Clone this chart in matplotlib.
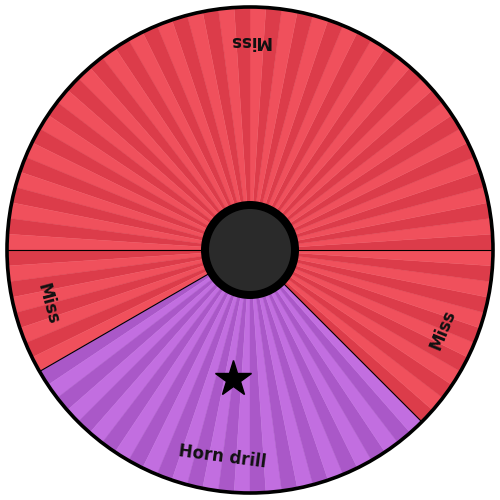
import numpy as np
import matplotlib
matplotlib.use("Agg")
import matplotlib.pyplot as plt
from matplotlib.patches import Wedge, Circle

# Data
labels = ["Miss", "Miss", "Horn drill", "Miss"]
spans_deg = [180, 30, 105, 45]          # angular size of each segment
light_colors = ["#f0505c", "#f0505c", "#c26ee0", "#f0505c"]
dark_colors = ["#dc3c4a", "#dc3c4a", "#aa58c8", "#dc3c4a"]
n_stripes = 96
winner = "Horn drill"

R = 243
fig = plt.figure(figsize=(5, 5), dpi=100)
ax = fig.add_axes([0, 0, 1, 1])
ax.set_xlim(-250, 250)
ax.set_ylim(-250, 250)
ax.set_aspect("equal")
ax.axis("off")

stripe_w = 360.0 / n_stripes
starts = np.concatenate([[0], np.cumsum(spans_deg)[:-1]])

for lab, s, span, lc, dc in zip(labels, starts, spans_deg, light_colors, dark_colors):
    k0 = int(round(s / stripe_w))
    k1 = int(round((s + span) / stripe_w))
    for k in range(k0, k1):
        col = dc if k % 2 == 0 else lc
        ax.add_patch(Wedge((0, 0), R, k * stripe_w, (k + 1) * stripe_w,
                           facecolor=col, edgecolor=col, linewidth=0.3, zorder=1))

# segment boundary lines
for s in starts:
    a = np.deg2rad(s)
    ax.plot([0, R * np.cos(a)], [0, R * np.sin(a)], color="black", lw=0.8, zorder=2)

# labels
for lab, s, span in zip(labels, starts, spans_deg):
    mid = s + span / 2
    a = np.deg2rad(mid)
    r = 209
    ax.text(r * np.cos(a), r * np.sin(a), lab, rotation=mid + 90,
            rotation_mode="anchor", ha="center", va="center",
            fontsize=12, fontweight="bold", color="#111111", zorder=4)

# winner star
for lab, s, span in zip(labels, starts, spans_deg):
    if lab == winner:
        mid = np.deg2rad(s + span / 2)
        ax.plot(130 * np.cos(mid), 130 * np.sin(mid), marker="*",
                markersize=27, color="black", linestyle="none", zorder=4)

# outer border
ax.add_patch(Circle((0, 0), R, facecolor="none", edgecolor="black", linewidth=2.6, zorder=5))

# hub
ax.add_patch(Circle((0, 0), 49, facecolor="black", edgecolor="none", zorder=6))
ax.add_patch(Circle((0, 0), 41, facecolor="#2a2a2a", edgecolor="none", zorder=7))

fig.savefig("out.png", dpi=100, facecolor="white")
